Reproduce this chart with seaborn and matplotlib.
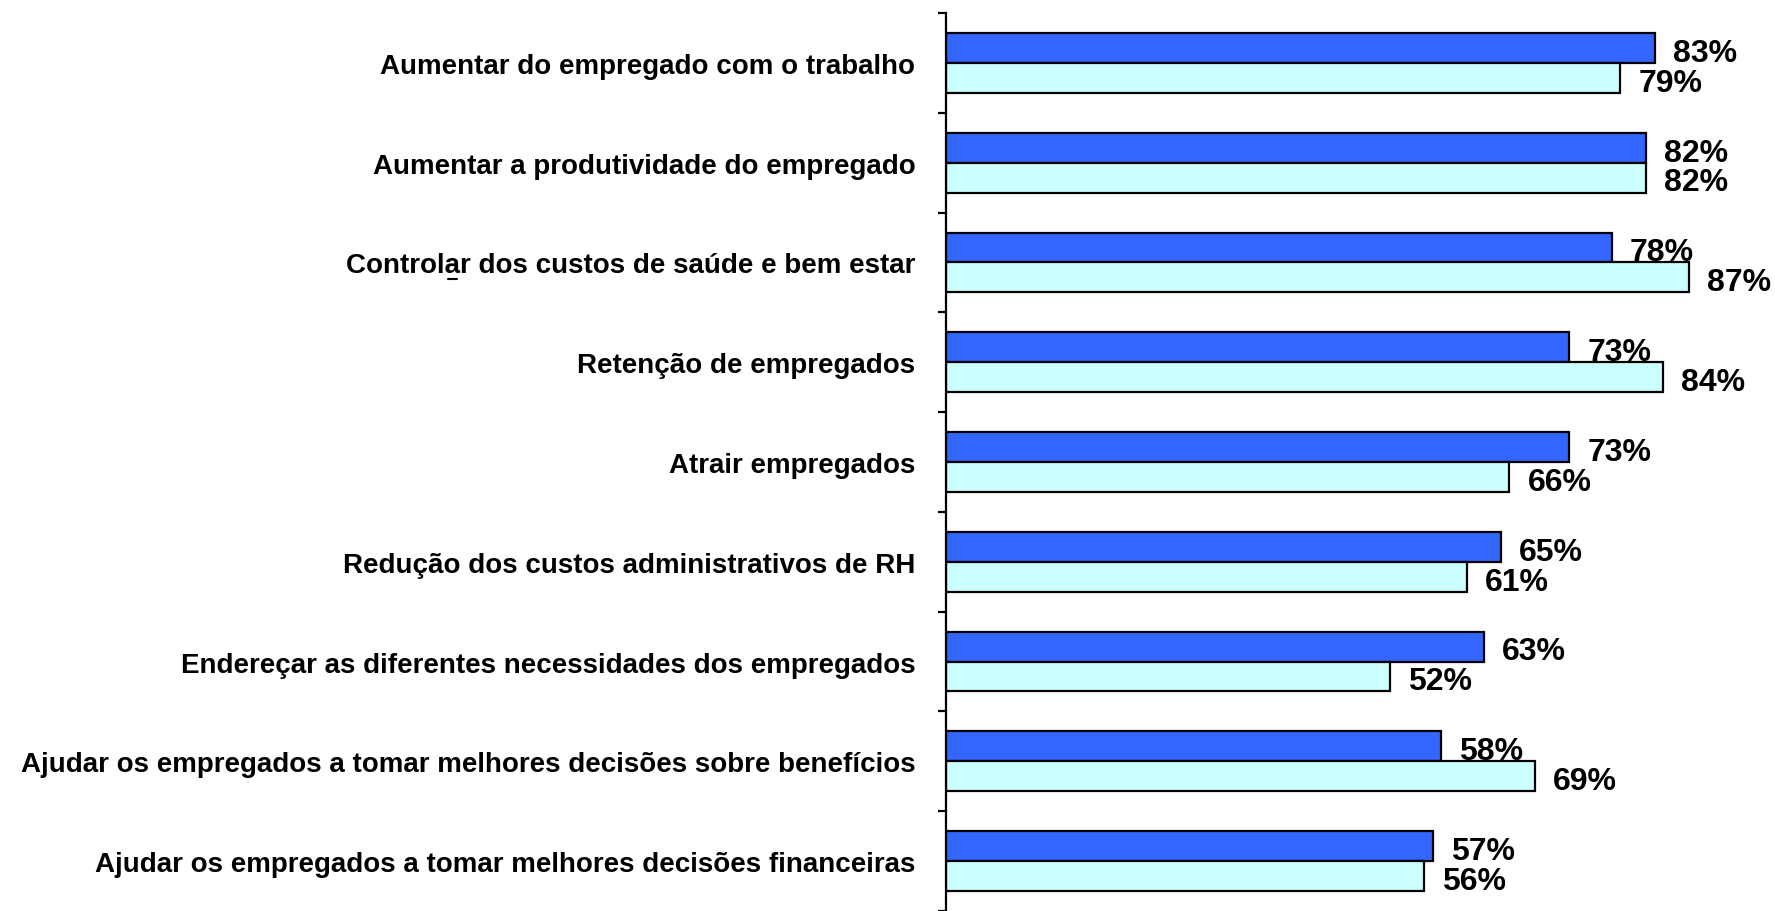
import matplotlib
matplotlib.use("Agg")
import matplotlib.pyplot as plt
import matplotlib.lines as mlines
import numpy as np
import pandas as pd
import seaborn as sns

categories = [
    'Aumentar do empregado com o trabalho',
    'Aumentar a produtividade do empregado',
    'Controlar dos custos de saúde e bem estar',
    'Retenção de empregados',
    'Atrair empregados',
    'Redução dos custos administrativos de RH',
    'Endereçar as diferentes necessidades dos empregados',
    'Ajudar os empregados a tomar melhores decisões sobre benefícios',
    'Ajudar os empregados a tomar melhores decisões financeiras',
]
series_names = ['A', 'B']
values_a = [83, 82, 78, 73, 73, 65, 63, 58, 57]
values_b = [79, 82, 87, 84, 66, 61, 52, 69, 56]

df = pd.DataFrame({
    'cat': categories * 2,
    'val': values_a + values_b,
    'serie': [series_names[0]] * len(categories) + [series_names[1]] * len(categories),
})

sns.set_style('white')
plt.rcParams['font.family'] = ['Liberation Sans', 'DejaVu Sans']
plt.rcParams['text.color'] = 'black'
plt.rcParams['ytick.color'] = 'black'
plt.rcParams['ytick.labelcolor'] = 'black'

fig = plt.figure(figsize=(17.75, 9.12), dpi=100)
ax = fig.add_axes([946 / 1775, 0.0, 1 - 946 / 1775, 898 / 912])

sns.barplot(data=df, y='cat', x='val', hue='serie', orient='h',
            palette=['#3366FF', '#CCFFFF'], saturation=1, edgecolor='black',
            linewidth=1.6, width=0.6, errorbar=None, legend=False, ax=ax)

ax.set_xlim(0, 97.1)
ax.set_ylim(len(categories) - 0.5, -0.5)
ax.set_xlabel(None)
ax.set_ylabel(None)

for cont in ax.containers:
    anns = ax.bar_label(cont, fmt='%d%%', padding=13, fontsize=23, fontweight='bold',
                        color='black', clip_on=False)
    for a in anns:
        a.xyann = (13, -3.5)

for s in ['top', 'right', 'bottom']:
    ax.spines[s].set_visible(False)
ax.spines['left'].set_linewidth(1.6)
ax.spines['left'].set_color('black')

ax.set_xticks([])
ax.tick_params(axis='y', which='major', length=0, pad=22)
ax.set_yticks(np.arange(-0.5, len(categories), 1.0), minor=True)
ax.tick_params(axis='y', which='minor', length=6, width=1.6, color='black', left=True)
for lbl in ax.get_yticklabels():
    lbl.set_fontweight('bold')
    lbl.set_fontsize(20)
    lbl.set_color('black')

fig.add_artist(mlines.Line2D([448 / 1775, 457 / 1775], [1 - 280 / 912, 1 - 280 / 912],
                             color='black', linewidth=1.5))

fig.savefig('out.png', dpi=100)
